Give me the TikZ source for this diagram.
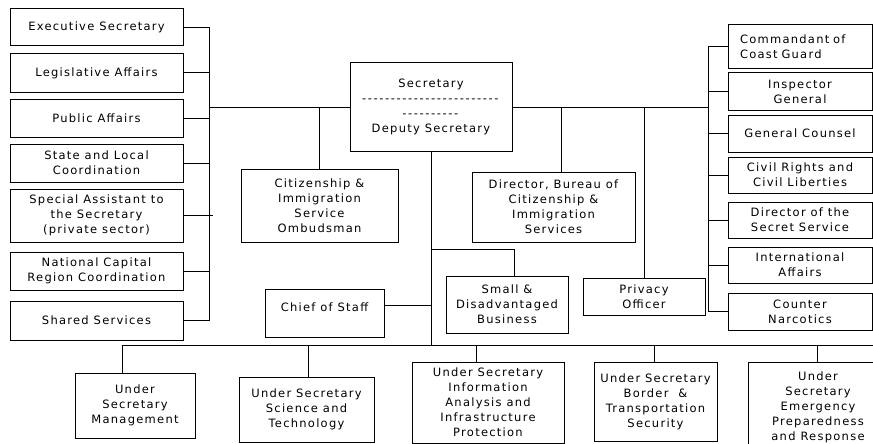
\documentclass[tikz,border=0pt]{standalone}
\usepackage{fontspec}
\setmainfont{DejaVu Sans}[LetterSpace=11]
\newcommand{\hy}{-\kern1.6pt}
\newcommand{\tendash}{\hy\hy\hy\hy\hy\hy\hy\hy\hy\hy}
\begin{document}
\begin{tikzpicture}[x=1pt,y=-1pt,
  box/.style={draw,line width=1pt,inner sep=0pt,align=center,
    font=\fontsize{11.5}{15}\selectfont},
  conn/.style={line width=1pt}]
\useasboundingbox (0,0) rectangle (873,444);
% left column
\node[box,minimum width=173,minimum height=37] (exec) at (96.5,27.5) {Executive Secretary};
\node[box,minimum width=173,minimum height=38] (legis) at (96.5,73) {Legislative Affairs};
\node[box,minimum width=173,minimum height=38] (public) at (96.5,118) {Public Affairs};
\node[box,minimum width=173,minimum height=38] (state) at (96.5,163) {State and Local\\Coordination};
\node[box,minimum width=173,minimum height=53] (spec) at (96.5,215.5) {Special Assistant to\\the Secretary\\(private sector)};
\node[box,minimum width=173,minimum height=38] (natcap) at (96.5,271) {National Capital\\Region Coordination};
\node[box,minimum width=173,minimum height=39] (shared) at (96.5,320.5) {Shared Services};
% centre
\node[box,minimum width=162,minimum height=88] (sec) at (431,107) {Secretary\\\tendash\tendash\hy\hy\hy\hy\\\tendash\\Deputy Secretary};
\node[box,minimum width=157,minimum height=73] (ombud) at (319.5,205.5) {Citizenship \&\\Immigration\\Service\\Ombudsman};
\node[box,minimum width=163,minimum height=70] (dir) at (553.5,207) {Director, Bureau of\\Citizenship \&\\Immigration\\Services};
\node[box,minimum width=119,minimum height=48] (chief) at (324.5,313) {\raisebox{12pt}{Chief of Staff}};
\node[box,minimum width=122,minimum height=57] (small) at (507,304.5) {Small \&\\Disadvantaged\\Business};
\node[box,minimum width=122,minimum height=37] (priv) at (644,296.5) {Privacy\\Officer};
% right column
\node[box,minimum width=144,minimum height=44,text width=120,align=left] (comm) at (800,47) {Commandant of\\Coast Guard};
\node[box,minimum width=144,minimum height=37] (insp) at (800,91.5) {Inspector\\General};
\node[box,minimum width=144,minimum height=37] (gc) at (800,133.5) {General Counsel};
\node[box,minimum width=144,minimum height=36] (cr) at (800,175) {Civil Rights and\\Civil Liberties};
\node[box,minimum width=144,minimum height=36] (ds) at (800,220) {Director of the\\Secret Service};
\node[box,minimum width=144,minimum height=36] (ia) at (800,265) {International\\Affairs};
\node[box,minimum width=144,minimum height=37] (cn) at (800,311.5) {Counter\\Narcotics};
% bottom row
\node[box,minimum width=120,minimum height=65] (mgmt) at (135,405.5) {Under\\Secretary\\Management};
\node[box,minimum width=135,minimum height=65] (sci) at (306.5,409.5) {Under Secretary\\Science and\\Technology};
\node[box,minimum width=152,minimum height=81] (info) at (488,402.5) {Under Secretary\\Information\\Analysis and\\Infrastructure\\Protection};
\node[box,minimum width=123,minimum height=79] (bord) at (655.5,401.5) {Under Secretary\\Border \ \&\\Transportation\\Security};
\node[box,minimum width=140,minimum height=90] (emer) at (818,407) {Under\\Secretary\\Emergency\\Preparedness\\and Response};
% coordinates
\coordinate (bl) at (209,0);
\coordinate (br) at (708,0);
\coordinate (dv) at (561,107);
\coordinate (sb) at (514,249);
\coordinate (cs) at ([yshift=8pt]chief.east);
\coordinate (vm) at (122,345);
\coordinate (vs) at (308,345);
\coordinate (vi) at (476,345);
\coordinate (vb) at (654,345);
\coordinate (ve) at (817,345);
\coordinate (bend) at (873,345);
% left bus
\draw[conn] (exec.east -| bl) -- (shared.east -| bl);
\foreach \n in {exec,legis,public,state,natcap,shared}
  \draw[conn] (\n.east) -- (\n.east -| bl);
\draw[conn] (spec.east) -- ++(29,0);
\draw[conn] (sec.west) -- (sec.west -| bl);
% right bus
\draw[conn] (comm.west -| br) -- (cn.west -| br);
\foreach \n in {comm,insp,gc,cr,ds,ia,cn}
  \draw[conn] (\n.west) -- (\n.west -| br);
\draw[conn] (sec.east) -- (sec.east -| br);
% centre connectors
\draw[conn] (ombud.north) -- (ombud.north |- sec.west);
\draw[conn] (dv) -- (dv |- dir.north);
\draw[conn] (priv.north) -- (priv.north |- sec.east);
\draw[conn] (sec.south) -- (sec.south |- vm);
\draw[conn] (sec.south |- sb) -- (sb) -- (sb |- small.north);
\draw[conn] (cs) -- (cs -| sec.south);
% bottom bus
\draw[conn] (vm) -- (bend);
\draw[conn] (vm) -- (vm |- mgmt.north);
\draw[conn] (vs) -- (vs |- sci.north);
\draw[conn] (vi) -- (vi |- info.north);
\draw[conn] (vb) -- (vb |- bord.north);
\draw[conn] (ve) -- (ve |- emer.north);
\end{tikzpicture}
\end{document}
